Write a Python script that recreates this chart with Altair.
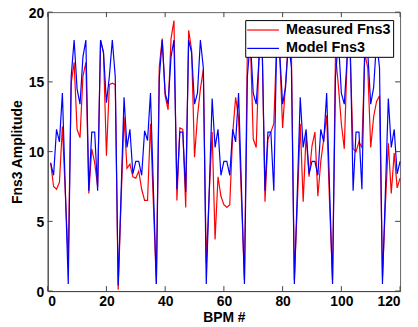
import altair as alt
import pandas as pd

bpm = list(range(1, 121))

measured = [
    9.2, 7.5, 7.3, 7.8, 11.8, 7.0, 2.2, 14.9, 16.4, 11.6,
    11.0, 15.4, 16.4, 7.0, 10.2, 9.2, 7.5, 18.0, 17.1, 9.7,
    14.8, 14.9, 14.8, 0.1, 6.5, 12.5, 8.8, 9.1, 8.2, 8.1,
    8.6, 7.3, 6.5, 6.5, 12.0, 6.2, 0.5, 16.1, 18.1, 14.0,
    13.0, 18.1, 19.4, 6.5, 11.7, 11.6, 6.0, 18.7, 17.3, 9.6,
    12.5, 14.5, 15.9, 2.0, 7.0, 11.4, 3.7, 8.2, 6.8, 6.2,
    6.0, 6.2, 11.3, 13.9, 12.4, 6.5, 0.8, 17.5, 18.0, 10.9,
    10.3, 17.0, 18.0, 6.4, 10.9, 11.4, 12.0, 18.0, 17.0, 11.7,
    14.9, 18.0, 17.0, 0.8, 6.2, 12.0, 6.4, 11.2, 8.2, 10.4,
    11.4, 6.8, 9.3, 10.9, 12.6, 6.2, 0.8, 17.0, 14.7, 12.0,
    10.2, 17.0, 17.0, 10.2, 10.0, 10.7, 10.3, 17.0, 16.0, 10.3,
    12.5, 13.6, 14.0, 1.0, 6.2, 10.6, 7.0, 9.9, 7.4, 8.1,
]

model = [
    9.2, 8.3, 11.6, 10.7, 14.2, 7.3, 0.5, 15.4, 18.0, 14.5,
    13.4, 16.8, 18.0, 7.2, 11.4, 11.4, 7.2, 18.0, 17.1, 13.5,
    15.4, 18.0, 15.4, 0.4, 7.1, 13.9, 10.3, 11.6, 8.4, 9.3,
    9.3, 8.3, 11.5, 10.8, 14.2, 7.3, 0.5, 15.3, 18.0, 14.2,
    13.4, 16.8, 18.0, 7.3, 11.4, 11.4, 7.1, 18.0, 17.1, 13.4,
    14.2, 18.0, 16.0, 0.5, 7.1, 13.8, 10.3, 11.6, 8.3, 9.3,
    9.3, 8.3, 11.6, 10.7, 14.2, 7.3, 0.5, 15.4, 18.0, 14.2,
    13.4, 16.8, 18.0, 7.2, 11.4, 11.4, 7.2, 18.0, 17.1, 13.4,
    14.6, 18.0, 16.0, 0.5, 7.1, 13.9, 10.3, 11.6, 8.4, 9.3,
    9.3, 8.3, 11.6, 10.7, 14.2, 7.3, 0.5, 15.4, 18.0, 14.2,
    13.4, 16.8, 18.0, 7.2, 11.4, 11.4, 7.3, 18.0, 17.1, 13.4,
    14.6, 18.0, 16.0, 0.5, 7.1, 13.8, 10.3, 11.6, 8.4, 9.3,
]

series_names = ["Measured Fns3", "Model Fns3"]
series_colors = ["#ff0000", "#0000ff"]
x_ticks = [0, 20, 40, 60, 80, 100, 120]
y_ticks = [0, 5, 10, 15, 20]

W, H = 355, 281
TICK = 5
font = "Liberation Sans"
axis_gray = "#444444"

df = pd.DataFrame({
    "bpm": bpm * 2,
    "value": measured + model,
    "series": [series_names[0]] * len(bpm) + [series_names[1]] * len(bpm),
})
xt = pd.DataFrame({"t": x_ticks})
yt = pd.DataFrame({"t": y_ticks})

xscale = alt.Scale(domain=[0, 120], nice=False)
yscale = alt.Scale(domain=[0, 20], nice=False)

lines = alt.Chart(df).mark_line(strokeWidth=1.2).encode(
    x=alt.X("bpm:Q", scale=xscale,
            axis=alt.Axis(values=x_ticks, title="BPM #", format="d")),
    y=alt.Y("value:Q", scale=yscale,
            axis=alt.Axis(values=y_ticks, title="Fns3 Amplitude", format="d",
                          labelOffset=1)),
    color=alt.Color("series:N",
                    scale=alt.Scale(domain=series_names, range=series_colors),
                    legend=alt.Legend(title=None, orient="none", legendX=199, legendY=8,
                                      symbolType="M-2.286,0L2.286,0", symbolSize=196,
                                      symbolStrokeWidth=1.2, symbolOffset=8,
                                      labelFont=font, labelFontSize=14.5,
                                      labelFontWeight="bold", labelColor="black",
                                      labelOffset=15,
                                      fillColor="white", strokeColor="black",
                                      padding=2, rowPadding=3.5, labelLimit=200)),
    order=alt.Order("bpm:Q"),
)

tick_bottom = alt.Chart(xt).mark_rule(color=axis_gray, strokeWidth=1).encode(
    x=alt.X("t:Q", scale=xscale), y=alt.datum(0), y2=alt.value(H - TICK))
tick_top = alt.Chart(xt).mark_rule(color=axis_gray, strokeWidth=1).encode(
    x=alt.X("t:Q", scale=xscale), y=alt.datum(20), y2=alt.value(TICK))
tick_left = alt.Chart(yt).mark_rule(color=axis_gray, strokeWidth=1).encode(
    y=alt.Y("t:Q", scale=yscale), x=alt.datum(0), x2=alt.value(TICK))
tick_right = alt.Chart(yt).mark_rule(color=axis_gray, strokeWidth=1).encode(
    y=alt.Y("t:Q", scale=yscale), x=alt.datum(120), x2=alt.value(W - TICK))

chart = alt.layer(lines, tick_bottom, tick_top, tick_left, tick_right).properties(
    width=W, height=H,
    padding={"left": 40, "top": 3, "right": 10, "bottom": 34},
    autosize=alt.AutoSizeParams(type="none"),
).configure_view(
    stroke="#666666", strokeWidth=1,
).configure_axis(
    labelFont=font, labelFontSize=14, labelFontWeight="bold", labelColor="black",
    titleFont=font, titleFontSize=14, titleFontWeight="bold", titleColor="black",
    domainColor=axis_gray, ticks=False, grid=False, labelPadding=4,
).configure_axisY(titlePadding=4).configure_axisX(titlePadding=2, labelPadding=4)

chart.save("out.html", embed_options={"renderer": "svg", "actions": False})
